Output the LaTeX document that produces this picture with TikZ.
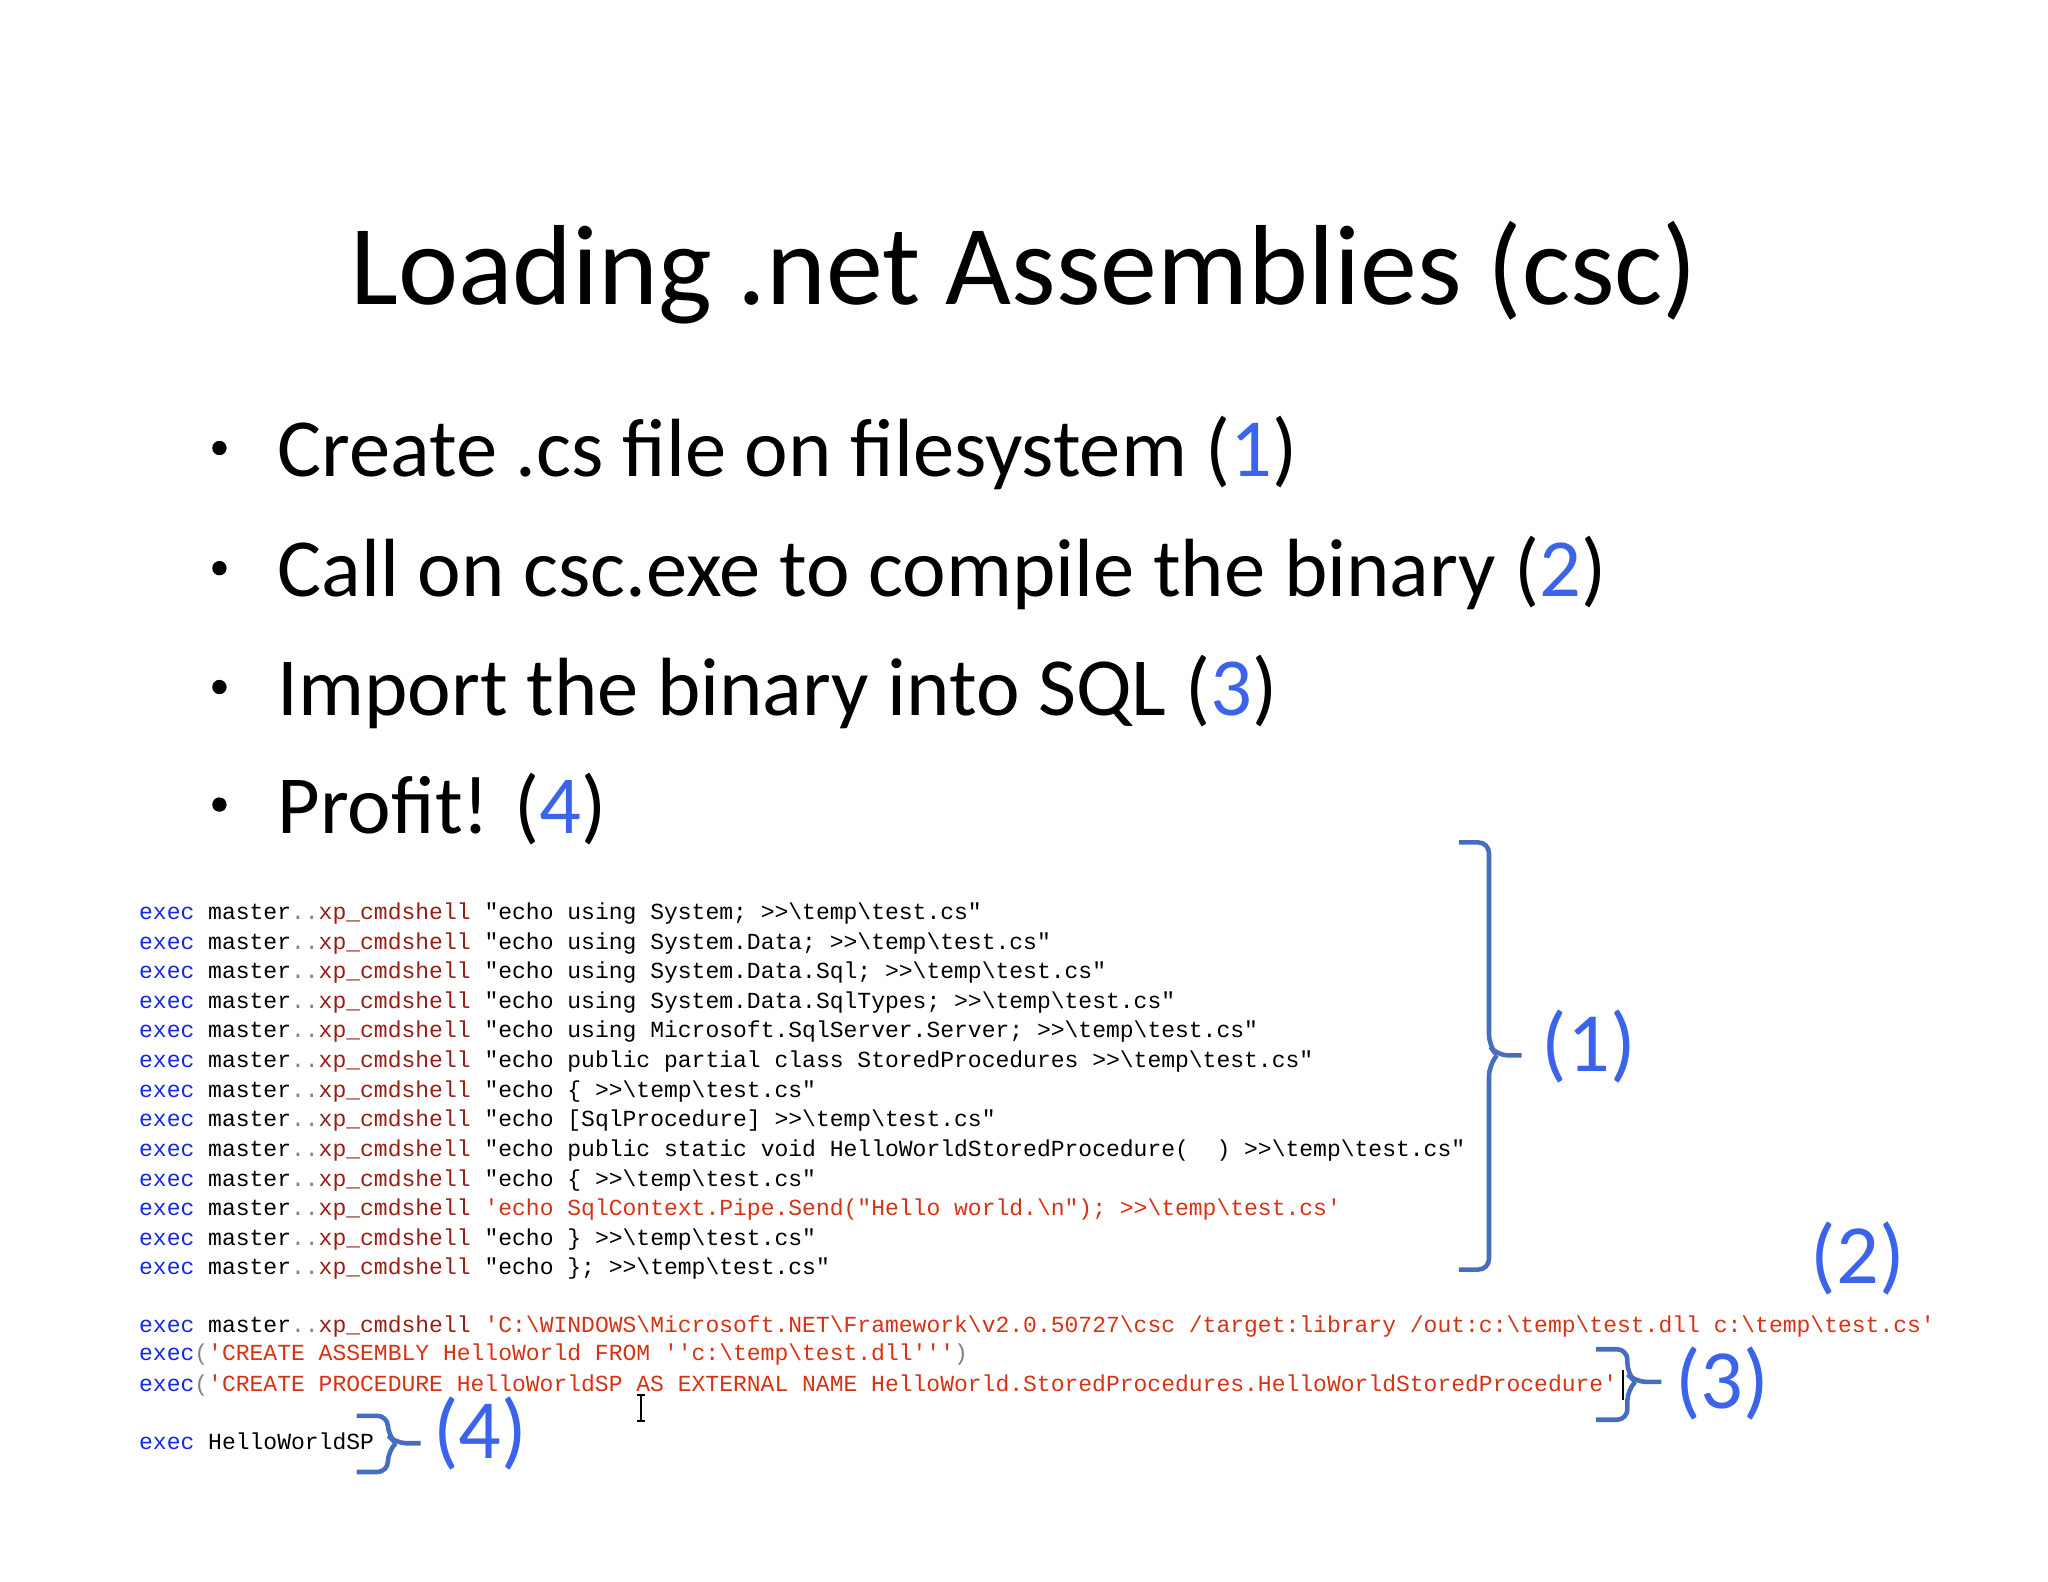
\documentclass[tikz,border=0pt]{standalone}
\usepackage{fontspec}
\setmainfont{Carlito}
\newfontfamily\cd{Liberation Mono}
\definecolor{cblue}{RGB}{20,40,230}
\definecolor{cmar}{RGB}{150,30,20}
\definecolor{cgray}{RGB}{130,130,130}
\definecolor{cred}{RGB}{215,50,20}
\definecolor{brc}{RGB}{70,110,190}
\definecolor{numc}{RGB}{60,100,235}
\newcommand\bs{\textbackslash}
\newcommand\pre{\textcolor{cblue}{exec} master\textcolor{cgray}{..}\textcolor{cmar}{xp\_cmdshell} }
\newcommand\ex{\textcolor{cblue}{exec}}
\begin{document}
\begin{tikzpicture}[x=0.01306cm,y=-0.01306cm,
  title/.style={anchor=base,font=\fontsize{32.4}{40}\selectfont},
  bul/.style={anchor=base west,font=\fontsize{23.5}{30}\selectfont,inner sep=0pt},
  code/.style={anchor=base west,font=\cd\fontsize{6.55}{8}\selectfont,inner sep=0pt},
  brace/.style={draw=brc,line width=1.3pt,rounded corners=3pt},
  lab/.style={anchor=base west,text=numc,font=\fontsize{24}{30}\selectfont,inner sep=0pt}]
\useasboundingbox (0,0) rectangle (1568,1211);
\node[title] (t) at (784,233) {Loading .net Assemblies (csc)};
\foreach \y/\n/\txt in {365/b1/{Create .cs file on filesystem (\textcolor{numc}{1})},
  457/b2/{Call on csc.exe to compile the binary (\textcolor{numc}{2})},
  548/b3/{Import the binary into SQL (\textcolor{numc}{3})},
  638/b4/{Profit! (\textcolor{numc}{4})}}{
  \fill (168,\y-22) circle (5.5);
  \node[bul] (\n) at (212,\y) {\txt};
}
\foreach \i/\txt in {
 0/{"echo using System; >>\bs temp\bs test.cs"},
 1/{"echo using System.Data; >>\bs temp\bs test.cs"},
 2/{"echo using System.Data.Sql; >>\bs temp\bs test.cs"},
 3/{"echo using System.Data.SqlTypes; >>\bs temp\bs test.cs"},
 4/{"echo using Microsoft.SqlServer.Server; >>\bs temp\bs test.cs"},
 5/{"echo public partial class StoredProcedures >>\bs temp\bs test.cs"},
 6/{"echo \{ >>\bs temp\bs test.cs"},
 7/{"echo [SqlProcedure] >>\bs temp\bs test.cs"},
 8/{"echo public static void HelloWorldStoredProcedure(\ \ ) >>\bs temp\bs test.cs"},
 9/{"echo \{ >>\bs temp\bs test.cs"},
 10/{\textcolor{cred}{'echo SqlContext.Pipe.Send("Hello world.\bs n"); >>\bs temp\bs test.cs'}},
 11/{"echo \} >>\bs temp\bs test.cs"},
 12/{"echo \}; >>\bs temp\bs test.cs"}}{
 \node[code] (c\i) at (106,{704+22.67*\i}) {\pre\txt};
}
\node[code] (c13) at (106,1020) {\pre\textcolor{cred}{'C:\bs WINDOWS\bs Microsoft.NET\bs Framework\bs v2.0.50727\bs csc /target:library /out:c:\bs temp\bs test.dll c:\bs temp\bs test.cs'}};
\node[code] (c14) at (106,1042) {\ex\textcolor{cgray}{(}\textcolor{cred}{'CREATE ASSEMBLY HelloWorld FROM ''c:\bs temp\bs test.dll'''}\textcolor{cgray}{)}};
\node[code] (c15) at (106,1065) {\ex\textcolor{cgray}{(}\textcolor{cred}{'CREATE PROCEDURE HelloWorldSP AS EXTERNAL NAME HelloWorld.StoredProcedures.HelloWorldStoredProcedure'}};
\node[code] (c16) at (106,1110) {\ex{} HelloWorldSP};
% cursors
\draw[black,line width=0.5pt] (491,1068) -- (491,1088) (488,1068) -- (494,1068) (488,1088) -- (494,1088);
\draw[black,line width=0.6pt] ([xshift=1.5pt,yshift=-1pt]c15.south east) -- ([xshift=1.5pt,yshift=1pt]c15.north east);
% braces
\coordinate (k1) at (1165,808);
\draw[brace] (1117,645) -- (1140,645) -- (1140,800) -- (1146,808) -- (k1) (1146,808) -- (1140,816) -- (1140,972) -- (1117,972);
\node[lab] (l1) at (1180,820) {(1)};
\node[lab] (l2) at (1386,983) {(2)};
\coordinate (k3) at (1272,1058);
\draw[brace] (1222,1033) -- (1246,1033) -- (1246,1052) -- (1252,1058) -- (k3) (1252,1058) -- (1246,1064) -- (1246,1087) -- (1222,1087);
\node[lab] (l3) at (1282,1078) {(3)};
\coordinate (k4) at (322,1105);
\draw[brace] (273,1084) -- (297,1084) -- (297,1099) -- (303,1105) -- (k4) (303,1105) -- (297,1111) -- (297,1127) -- (273,1127);
\node[lab] (l4) at (331,1117) {(4)};
\end{tikzpicture}
\end{document}
